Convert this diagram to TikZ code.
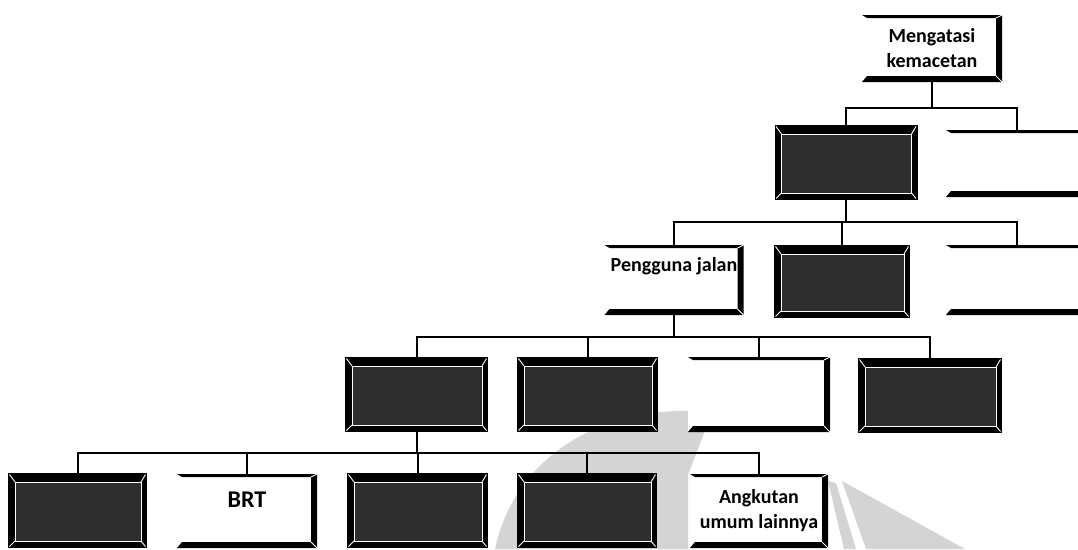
\documentclass[tikz,border=0pt]{standalone}
\usepackage{fontspec}
\setmainfont{Carlito}

% frame of a light box: thin top edge, dark right edge and a heavy bottom edge
\newcommand\litframe[1]{%
  \fill[bevelband] (#1.north west) -- (#1.north east) -- ([shift={(-6,3)}]#1.north east) -- ([shift={(5,3)}]#1.north west) -- cycle;
  \fill[bevelband] (#1.north east) -- (#1.south east) -- ([shift={(-6,-6)}]#1.south east) -- ([shift={(-6,3)}]#1.north east) -- cycle;
  \fill[bevelband] (#1.south west) -- (#1.south east) -- ([shift={(-6,-6)}]#1.south east) -- ([shift={(5,-6)}]#1.south west) -- cycle;
  \draw[bevelcut] (#1.north east) -- ([shift={(-6,3)}]#1.north east)
                  (#1.south east) -- ([shift={(-6,-6)}]#1.south east);
}
% frame of a dark box: black bevel, white inner rule and white corner mitres
\newcommand\darkframe[1]{%
  \fill[bevelband] (#1.north west) rectangle (#1.south east);
  \fill[darkface] ([shift={(7,9)}]#1.north west) rectangle ([shift={(-6,-7)}]#1.south east);
  \draw[bevelcut] ([shift={(7,9)}]#1.north west) rectangle ([shift={(-6,-7)}]#1.south east);
  \draw[bevelcut] ([shift={(1.5,1.5)}]#1.north west) -- ([shift={(7,9)}]#1.north west)
                  ([shift={(-1.5,1.5)}]#1.north east) -- ([shift={(-6,9)}]#1.north east)
                  ([shift={(1.5,-1.5)}]#1.south west) -- ([shift={(7,-7)}]#1.south west)
                  ([shift={(-1.5,-1.5)}]#1.south east) -- ([shift={(-6,-7)}]#1.south east);
}

\begin{document}
\begin{tikzpicture}[x=1pt,y=-1pt,
  chartbox/.style={rectangle, inner sep=0pt, outer sep=0pt, align=center,
                   font=\bfseries\fontsize{20}{25}\selectfont},
  litbox/.style={chartbox, fill=white},
  darkbox/.style={chartbox},
  wire/.style={line width=2pt, black},
  bevelband/.style={fill=black},
  bevelcut/.style={white, line width=0.9pt},
  darkface/.style={fill=black!82},
  watermark/.style={fill=black!17}]
\useasboundingbox (0,0) rectangle (1078,549);
\clip (0,0) rectangle (1078,549);
\fill[white] (0,0) rectangle (1078,549);

% faint emblem in the lower right
\fill[watermark] (495,549) .. controls (515,455) and (605,402) .. (712,412)
  -- (688,475) -- (688,549) -- cycle;
\fill[watermark] (842,481) -- (965,549) -- (866,549) -- cycle;
\fill[watermark] (828,481) -- (836,483) -- (856,549) -- (844,549) -- cycle;

% level 1
\node[litbox, minimum width=140pt, minimum height=67pt] (top) at (932,48.5) {Mengatasi\\kemacetan};
% level 2
\node[darkbox, minimum width=143pt, minimum height=75pt] (l2a) at (846,162.5) {};
\node[litbox, minimum width=142pt, minimum height=67pt] (l2b) at (1017,163.5) {};
% level 3
\node[litbox, minimum width=139pt, minimum height=70pt] (pj) at (674,280) {Pengguna jalan\\[7pt]\mbox{}};
\node[darkbox, minimum width=136pt, minimum height=73pt] (l3b) at (842,281.5) {};
\node[litbox, minimum width=142pt, minimum height=70pt] (l3c) at (1017,280) {};
% level 4
\node[darkbox, minimum width=143pt, minimum height=75pt] (pa) at (416.5,394.5) {};
\node[darkbox, minimum width=141pt, minimum height=75pt] (pb) at (587.5,394.5) {};
\node[litbox, minimum width=142pt, minimum height=75pt] (pc) at (759,394.5) {};
\node[darkbox, minimum width=144pt, minimum height=75pt] (pd) at (930,395.5) {};
% level 5
\node[darkbox, minimum width=139pt, minimum height=75pt] (q1) at (77.5,510.5) {};
\node[litbox, minimum width=140pt, minimum height=74pt, font=\bfseries\fontsize{24}{28}\selectfont] (q2) at (247,511) {BRT\\[-6pt]\mbox{}};
\node[darkbox, minimum width=141pt, minimum height=75pt] (q3) at (417.5,510.5) {};
\node[darkbox, minimum width=140pt, minimum height=75pt] (q4) at (587,510.5) {};
\node[litbox, minimum width=138pt, minimum height=74pt] (q5) at (759,511) {Angkutan\\umum lainnya};

% frames
\litframe{top}
\darkframe{l2a}
\litframe{l2b}
\litframe{pj}
\darkframe{l3b}
\litframe{l3c}
\darkframe{pa}
\darkframe{pb}
\litframe{pc}
\darkframe{pd}
\darkframe{q1}
\litframe{q2}
\darkframe{q3}
\darkframe{q4}
\litframe{q5}

% connectors
\draw[wire] (top.south) -- ++(0,26) coordinate (j1) -| (l2a.north);
\draw[wire] (j1) -| (l2b.north);

\draw[wire] (l2a.south) -- ++(0,22) coordinate (j2) -| (pj.north);
\draw[wire] (j2) -| (l3b.north);
\draw[wire] (j2) -| (l3c.north);

\draw[wire] (pj.south) -- ++(0,22) coordinate (j3) -| (pa.north);
\draw[wire] (j3) -| (pb.north);
\draw[wire] (j3) -| (pc.north);
\draw[wire] (j3) -| (pd.north);

\draw[wire] (pa.south) -- ++(0,21) coordinate (j4) -| (q1.north);
\draw[wire] (j4) -| (q2.north);
\draw[wire] (j4) -| (q3.north);
\draw[wire] (j4) -| (q4.north);
\draw[wire] (j4) -| (q5.north);
\end{tikzpicture}
\end{document}
